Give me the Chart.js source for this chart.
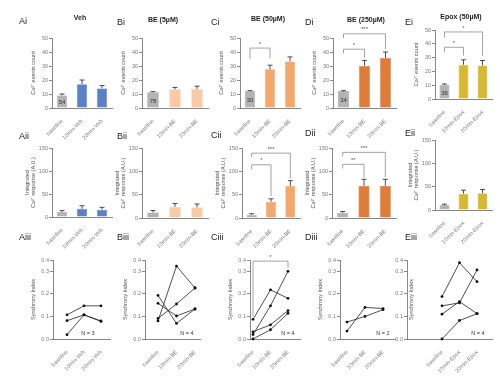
<!DOCTYPE html>
<html><head><meta charset="utf-8">
<script src="https://cdn.jsdelivr.net/npm/chart.js@4.4.1/dist/chart.umd.min.js"></script>
<style>
body{margin:0;width:500px;height:378px;background:#fff;position:relative;overflow:hidden;font-family:"Liberation Sans",Arial,sans-serif}
canvas{position:absolute}
.lab{position:absolute;font-size:9px;line-height:9px;color:#222}
.ttl{position:absolute;font-size:7px;line-height:7px;font-weight:bold;color:#222;transform:translateX(-50%);white-space:nowrap}
</style></head><body>
<script>
// ---------------- DATA ----------------
const catsVeh  = ['baseline', '10min-Veh', '20min-Veh'];
const catsBE   = ['baseline', '10min-BE', '20min-BE'];
const catsEpox = ['baseline', '10min-Epox', '20min-Epox'];

// Row i : Ca2+ events count (mean, SEM)
const countVeh    = [9.0, 17.0, 14.0];   const countVehErr    = [1.0, 3.0, 2.0];
const countBE5    = [11.3, 13.4, 13.6];  const countBE5Err    = [0.4, 1.3, 2.0];
const countBE50   = [11.9, 27.6, 33.3];  const countBE50Err   = [0.5, 3.0, 3.2];
const countBE250  = [11.9, 30.2, 35.7];  const countBE250Err  = [0.5, 3.8, 4.3];
const countEpox   = [10.3, 24.8, 24.3];  const countEpoxErr   = [0.6, 3.6, 3.6];
const nCells      = ['54', '78', '30', '34', '36'];

// Row ii : Integrated Ca2+ response (A.U.)
const integVeh    = [10.9, 18.0, 16.0];  const integVehErr    = [3.0, 6.5, 5.0];
const integBE5    = [12.0, 24.0, 23.0];  const integBE5Err    = [4.0, 7.0, 7.0];
const integBE50   = [7.2, 34.6, 68.5];   const integBE50Err   = [2.0, 6.5, 11.5];
const integBE250  = [10.8, 68.5, 68.5];  const integBE250Err  = [3.0, 14.4, 14.4];
const integEpox   = [10.0, 35.0, 36.0];  const integEpoxErr   = [2.5, 7.5, 8.0];

// Row iii : Synchrony index, one line per experiment
const syncVeh = [[0.107, 0.147, 0.147], [0.081, 0.107, 0.078], [0.019, 0.107, 0.080]];
const syncBE5 = [[0.080, 0.323, 0.226], [0.091, 0.155, 0.226], [0.193, 0.069, 0.133], [0.158, 0.102, 0.133]];
const syncBE50 = [[0.087, 0.218, 0.180], [0.020, 0.147, 0.300], [0.032, 0.063, 0.126], [0.000, 0.041, 0.114]];
const syncBE250 = [[0.035, 0.140, 0.135], [0.075, 0.100, 0.130]];
const syncEpox = [[0.188, 0.338, 0.254], [0.147, 0.160, 0.306], [0.110, 0.166, 0.112], [0.000, 0.082, 0.112]];
const nExp = ['N = 3', 'N = 4', 'N = 4', 'N = 2', 'N = 4'];

const syncTickVals   = [0, 0.1, 0.2, 0.3, 0.35];
const syncTickLabels = ['0.0', '0.1', '0.2', '0.3', '0.4'];

// ---------------- STYLE ----------------
const GREY = '#b3b3b3', GREYB = '#8f8f8f';
const C_VEH = '#5b80c6', C_BE5 = '#f8cba6', C_BE50 = '#f4a86c', C_BE250 = '#e07c3a', C_EPOX = '#d6b933';
const AX = '#6a6a6a', TK = '#7a7a7a';
const FONT = '"Liberation Sans", Arial, sans-serif';
const PT = 30, XH = 42, PR = 4, FS = 5.5, LH = FS * 1.2;

Chart.defaults.font.family = FONT;

const extras = {
  id: 'extras',
  afterDatasetsDraw(chart, args, o) {
    const ctx = chart.ctx, x = chart.scales.x, y = chart.scales.y, ca = chart.chartArea;
    ctx.save();
    if (o.err) {
      ctx.strokeStyle = '#222'; ctx.lineWidth = 0.8;
      o.err.forEach((e, i) => {
        const px = x.getPixelForValue(i), y0 = y.getPixelForValue(o.vals[i]), y1 = y.getPixelForValue(o.vals[i] + e);
        ctx.beginPath(); ctx.moveTo(px, y0); ctx.lineTo(px, y1);
        ctx.moveTo(px - 2.5, y1); ctx.lineTo(px + 2.5, y1); ctx.stroke();
      });
    }
    if (o.n) {
      const px = x.getPixelForValue(0), py = (y.getPixelForValue(0) + y.getPixelForValue(o.vals[0])) / 2 + 1;
      ctx.fillStyle = '#333'; ctx.font = '6px ' + FONT; ctx.textAlign = 'center'; ctx.textBaseline = 'middle';
      ctx.fillText(o.n, px, py);
    }
    (o.brackets || []).forEach(b => {
      const xa = x.getPixelForValue(b.from), xb = x.getPixelForValue(b.to), yt = y.getPixelForValue(b.at);
      const ya = y.getPixelForValue(b.legA), yb = y.getPixelForValue(b.legB);
      ctx.strokeStyle = '#666'; ctx.lineWidth = 0.6;
      ctx.beginPath(); ctx.moveTo(xa, ya); ctx.lineTo(xa, yt); ctx.lineTo(xb, yt); ctx.lineTo(xb, yb); ctx.stroke();
      ctx.fillStyle = '#555'; ctx.font = '6px ' + FONT; ctx.textAlign = 'center'; ctx.textBaseline = 'bottom';
      ctx.fillText(b.txt, (xa + xb) / 2, yt - 1);
    });
    if (o.N) {
      ctx.fillStyle = '#333'; ctx.font = '5.5px ' + FONT; ctx.textAlign = 'center'; ctx.textBaseline = 'middle';
      ctx.fillText(o.N, ca.right - o.Nr, ca.bottom - 6);
    }
    ctx.restore();
  }
};

function panel(p) {
  const g = p.g;
  const YW = p.yw || Math.ceil(p.d + LH / 2 + 1);
  const tpad = YW - p.d - LH / 2;
  const W = Math.round(YW + (g.r - g.ax) + PR), H = Math.round(PT + (g.b - g.t) + XH);
  const cv = document.createElement('canvas');
  cv.width = W; cv.height = H;
  cv.style.left = (g.ax - YW) + 'px'; cv.style.top = (g.t - PT) + 'px';
  cv.style.width = W + 'px'; cv.style.height = H + 'px';
  document.body.appendChild(cv);
  const line = p.kind === 'line';
  const xScale = {
    afterFit: s => { s.height = XH; },
    grid: { display: false },
    border: { color: AX, width: 0.8 },
    ticks: { minRotation: 45, maxRotation: 45, autoSkip: false, font: { size: FS }, color: TK, padding: 2 }
  };
  if (line) {
    const unit = (g.p2 - g.p0) / 2;
    Object.assign(xScale, {
      type: 'linear', min: -(g.p0 - g.ax) / unit, max: 2 + (g.r - g.p2) / unit,
      afterBuildTicks: s => { s.ticks = [0, 1, 2].map(v => ({ value: v })); }
    });
    xScale.ticks.callback = v => p.cats[v];
  }
  const yScale = {
    min: 0, max: p.yMax,
    afterFit: s => { s.width = YW; },
    grid: { drawOnChartArea: false, tickLength: 3, color: AX, lineWidth: 0.8 },
    border: { color: AX, width: 0.8 },
    ticks: { stepSize: p.step, font: { size: FS }, color: TK, padding: 1 },
    title: { display: true, text: p.ytitle, font: { size: FS }, color: '#555', padding: { top: tpad, bottom: 0 } }
  };
  if (line) {
    yScale.afterBuildTicks = s => { s.ticks = syncTickVals.map(v => ({ value: v })); };
    yScale.ticks.callback = (v, i) => syncTickLabels[i];
  }
  const data = line ? {
    datasets: p.lines.map(l => ({
      data: l.map((v, i) => ({ x: i, y: v })), borderColor: '#222', borderWidth: 0.8,
      pointRadius: 1.4, pointBackgroundColor: '#111', pointBorderWidth: 0, clip: false, tension: 0
    }))
  } : {
    labels: p.cats,
    datasets: [{
      data: p.vals, backgroundColor: [GREY, p.color, p.color], borderColor: [GREYB, p.color, p.color],
      borderWidth: 0.6, barPercentage: 0.52, categoryPercentage: 1
    }]
  };
  new Chart(cv, {
    type: line ? 'line' : 'bar',
    data,
    options: {
      responsive: false, animation: false, devicePixelRatio: 1,
      layout: { autoPadding: false, padding: { top: PT, left: 0, right: PR, bottom: 0 } },
      plugins: { legend: { display: false }, tooltip: { enabled: false }, title: { display: false },
        extras: { vals: p.vals, err: p.err, n: p.n, brackets: p.brackets, N: p.N, Nr: p.Nr } },
      scales: { x: xScale, y: yScale }
    },
    plugins: [extras]
  });
}

const tCount = 'Ca²⁺ events count';
const tInteg = ['Integrated', 'Ca²⁺ response (A.U.)'];
const tSync = 'Synchrony Index';

// Row i
panel({ kind: 'bar', cats: catsVeh, vals: countVeh, err: countVehErr, color: C_VEH, n: nCells[0], yMax: 50, step: 10, ytitle: tCount, d: 19, g: { ax: 52, r: 112, t: 38, b: 108 } });
panel({ kind: 'bar', cats: catsBE, vals: countBE5, err: countBE5Err, color: C_BE5, n: nCells[1], yMax: 50, step: 10, ytitle: tCount, d: 19, g: { ax: 142, r: 208, t: 38, b: 108 } });
panel({ kind: 'bar', cats: catsBE, vals: countBE50, err: countBE50Err, color: C_BE50, n: nCells[2], yMax: 50, step: 10, ytitle: tCount, d: 19, g: { ax: 240, r: 300, t: 38, b: 108 },
  brackets: [{ from: 0, to: 1, at: 42.8, legA: 35, legB: 35.5, txt: '*' }] });
panel({ kind: 'bar', cats: catsBE, vals: countBE250, err: countBE250Err, color: C_BE250, n: nCells[3], yMax: 50, step: 10, ytitle: tCount, d: 19, g: { ax: 333, r: 396, t: 38, b: 108 },
  brackets: [{ from: 0, to: 1, at: 42, legA: 39, legB: 36, txt: '*' }, { from: 0, to: 2, at: 53, legA: 50, legB: 42, txt: '***' }] });
panel({ kind: 'bar', cats: catsEpox, vals: countEpox, err: countEpoxErr, color: C_EPOX, n: nCells[4], yMax: 50, step: 10, ytitle: tCount, d: 19, g: { ax: 435, r: 492, t: 30, b: 99 },
  brackets: [{ from: 0, to: 1, at: 37.5, legA: 34, legB: 31.5, txt: '*' }, { from: 0, to: 2, at: 48.6, legA: 44.5, legB: 31.5, txt: '*' }] });

// Row ii
panel({ kind: 'bar', cats: catsVeh, vals: integVeh, err: integVehErr, color: C_VEH, yMax: 150, step: 50, ytitle: tInteg, d: 25, g: { ax: 52, r: 112, t: 148, b: 217 } });
panel({ kind: 'bar', cats: catsBE, vals: integBE5, err: integBE5Err, color: C_BE5, yMax: 150, step: 50, ytitle: tInteg, d: 25, g: { ax: 142, r: 208, t: 148, b: 218 } });
panel({ kind: 'bar', cats: catsBE, vals: integBE50, err: integBE50Err, color: C_BE50, yMax: 150, step: 50, ytitle: tInteg, d: 25, g: { ax: 242, r: 300, t: 148, b: 218 },
  brackets: [{ from: 0, to: 1, at: 114, legA: 104, legB: 47, txt: '*' }, { from: 0, to: 2, at: 139, legA: 130, legB: 85, txt: '***' }] });
panel({ kind: 'bar', cats: catsBE, vals: integBE250, err: integBE250Err, color: C_BE250, yMax: 150, step: 50, ytitle: tInteg, d: 25, g: { ax: 332, r: 396, t: 148, b: 218 },
  brackets: [{ from: 0, to: 1, at: 115, legA: 106, legB: 86, txt: '**' }, { from: 0, to: 2, at: 140.6, legA: 132, legB: 87, txt: '***' }] });
panel({ kind: 'bar', cats: catsEpox, vals: integEpox, err: integEpoxErr, color: C_EPOX, yMax: 150, step: 50, ytitle: tInteg, d: 25, g: { ax: 435, r: 492, t: 140, b: 210 } });

// Row iii
panel({ kind: 'line', cats: catsVeh, lines: syncVeh, yMax: 0.35, ytitle: tSync, d: 20, N: nExp[0], Nr: 22, g: { ax: 53, r: 110, t: 260, b: 339, p0: 67, p2: 101 } });
panel({ kind: 'line', cats: catsBE, lines: syncBE5, yMax: 0.35, ytitle: tSync, d: 20, N: nExp[1], Nr: 13, g: { ax: 145, r: 200, t: 260, b: 339, p0: 158, p2: 195 } });
panel({ kind: 'line', cats: catsBE, lines: syncBE50, yMax: 0.35, ytitle: tSync, d: 20, N: nExp[2], Nr: 12, g: { ax: 250, r: 300, t: 260, b: 339, p0: 253, p2: 288 },
  brackets: [{ from: 0, to: 2, at: 0.345, legA: 0.1, legB: 0.315, txt: '*' }] });
panel({ kind: 'line', cats: catsBE, lines: syncBE250, yMax: 0.35, ytitle: tSync, d: 20, N: nExp[3], Nr: 12, g: { ax: 340, r: 395, t: 260, b: 339, p0: 347, p2: 383 } });
panel({ kind: 'line', cats: catsEpox, lines: syncEpox, yMax: 0.35, ytitle: tSync, d: -4, yw: 20, N: nExp[4], Nr: 14, g: { ax: 407, r: 492, t: 260, b: 339, p0: 442, p2: 477 } });

// Panel labels and titles
const labels = [
  ['Ai', 19, 17], ['Bi', 117, 18], ['Ci', 211, 18], ['Di', 305, 18], ['Ei', 405, 18],
  ['Aii', 19, 132], ['Bii', 117, 132], ['Cii', 211, 131], ['Dii', 305, 129], ['Eii', 405, 129],
  ['Aiii', 19, 233], ['Biii', 117, 233], ['Ciii', 211, 233], ['Diii', 305, 233], ['Eiii', 405, 233]
];
labels.forEach(([t, x, y]) => { const d = document.createElement('div'); d.className = 'lab'; d.textContent = t; d.style.left = x + 'px'; d.style.top = y + 'px'; document.body.appendChild(d); });
const titles = [['Veh', 80, 14], ['BE (5µM)', 163, 16], ['BE (50µM)', 268, 15], ['BE (250µM)', 366, 16], ['Epox (50µM)', 461, 13]];
titles.forEach(([t, x, y]) => { const d = document.createElement('div'); d.className = 'ttl'; d.textContent = t; d.style.left = x + 'px'; d.style.top = y + 'px'; document.body.appendChild(d); });
</script>
</body></html>
